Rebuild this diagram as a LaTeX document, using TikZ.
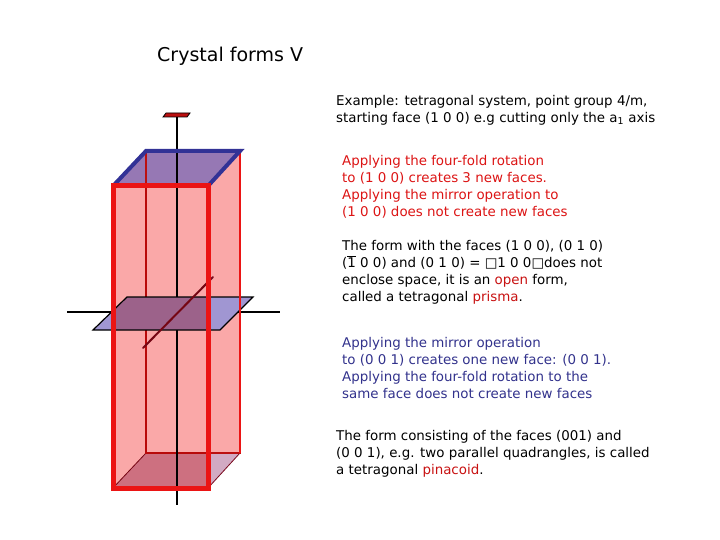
\documentclass[tikz,border=0pt]{standalone}
\usepackage{fontspec}
\setmainfont{DejaVu Sans}
\begin{document}
\begin{tikzpicture}[x=1pt,y=-1pt,
  txt/.style={anchor=north west,align=left,inner sep=0pt,font=\fontsize{13.4}{17}\selectfont},
  redt/.style={txt,text={rgb,255:red,220;green,20;blue,20}},
  bluet/.style={txt,text={rgb,255:red,50;green,50;blue,140}}]
\definecolor{pinkf}{RGB}{250,168,168}
\definecolor{topf}{RGB}{150,120,180}
\definecolor{botf}{RGB}{210,170,195}
\definecolor{planef}{RGB}{160,150,210}
\definecolor{cred}{RGB}{235,20,20}
\definecolor{cblue}{RGB}{50,50,150}
\definecolor{dred}{RGB}{120,10,30}
\useasboundingbox (0,0) rectangle (720,540);
\coordinate (FTL) at (113,186); \coordinate (FTR) at (208,186);
\coordinate (FBL) at (113,488); \coordinate (FBR) at (208,488);
\coordinate (BTL) at (146,151); \coordinate (BTR) at (240,151);
\coordinate (BBL) at (146,453); \coordinate (BBR) at (240,453);
% side faces
\fill[pinkf] (FTR) -- (BTR) -- (BBR) -- (FBR) -- cycle;
\fill[botf] (FBL) -- (BBL) -- (BBR) -- (FBR) -- cycle;
\fill[topf] (FTL) -- (BTL) -- (BTR) -- (FTR) -- cycle;
\draw[dred,line width=0.8pt] (FBL) -- (BBL) -- (BBR) -- (FBR);
\draw[cred!80!black,line width=1.6pt] (BTL) -- (BBL) -- (BBR) -- (BTR);
% axes
\draw[line width=1.8pt] (177,115) -- (177,505);
\fill[cred!80!black] (166,113) -- (190,113) -- (187,117) -- (163,117) -- cycle;
\draw[line width=0.8pt] (166,113) -- (190,113) -- (187,117) -- (163,117) -- cycle;
\draw[line width=1.8pt] (67,312) -- (280,312);
\fill[planef] (93,330) -- (220,330) -- (253,297) -- (127,297) -- cycle;
\draw[line width=1.2pt] (93,330) -- (220,330) -- (253,297) -- (127,297) -- cycle;
\draw[dred,line width=2pt,line cap=round] (143,348) -- (213,277);
% front face
\begin{scope}[blend mode=multiply]
\fill[pinkf] (FTL) rectangle (FBR);
\end{scope}
\draw[cred,line width=1.6pt] (FTR) -- (BTR) -- (BBR);
\draw[cblue,line width=4pt,line cap=round] (FTL) -- (BTL) -- (BTR) -- (FTR);
\draw[cred,line width=5pt] (FTL) rectangle (FBR);
% texts
\node[anchor=west,inner sep=0pt,font=\fontsize{19}{22}\selectfont] (title) at (157,56) {Crystal forms V};
\node[txt] (t1) at (336,95) {Example: tetragonal system, point group 4/m,\\starting face (1 0 0) e.g cutting only the a\textsubscript{1} axis};
\node[redt] (t2) at (342,155) {Applying the four-fold rotation\\to (1 0 0) creates 3 new faces.\\Applying the mirror operation to\\(1 0 0) does not create new faces};
\node[txt] (t3) at (342,240) {The form with the faces (1 0 0), (0 1 0)\\($\overline{\mbox{1}}$ 0 0) and (0 1 0) = □1 0 0□does not\\enclose space, it is an \textcolor{cred!85!black}{open} form,\\called a tetragonal \textcolor{cred!85!black}{prisma}.};
\node[bluet] (t4) at (342,337) {Applying the mirror operation\\to (0 0 1) creates one new face: (0 0 1).\\Applying the four-fold rotation to the\\same face does not create new faces};
\node[txt] (t5) at (336,430) {The form consisting of the faces (001) and\\(0 0 1), e.g. two parallel quadrangles, is called\\a tetragonal \textcolor{cred!85!black}{pinacoid}.};
\end{tikzpicture}
\end{document}
